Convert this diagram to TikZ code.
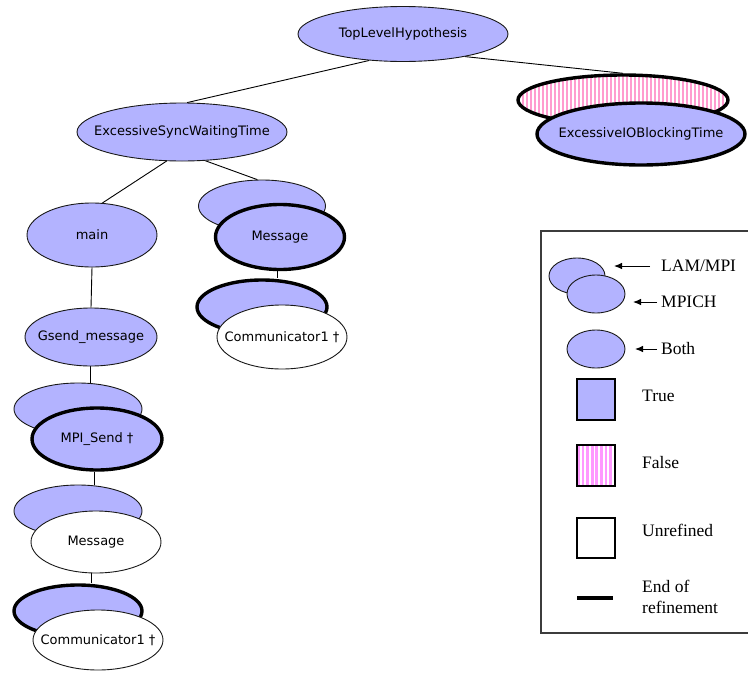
\documentclass[tikz,border=0pt]{standalone}
\usepackage{fontspec}
\setmainfont{Liberation Serif}
\newfontfamily\hypfont{DejaVu Sans}
\usetikzlibrary{shapes.geometric, arrows.meta, backgrounds}

\definecolor{hypblue}{RGB}{179,179,255}
\definecolor{falsepink}{RGB}{255,156,207}
\definecolor{legpink}{RGB}{255,153,255}
\definecolor{framegray}{RGB}{60,60,60}

\tikzset{
    hyp/.style={ellipse, draw=black!90, line width=0.9pt, fill=hypblue,
        inner xsep=-30pt, inner ysep=0pt,
        font=\hypfont\fontsize{13}{15}\selectfont},
    unref/.style={hyp, fill=white},
    endref/.style={line width=3.4pt, draw=black},
    back/.style={minimum width=128pt, minimum height=52pt},
    front/.style={minimum width=130pt, minimum height=62pt},
    stripes/.style 2 args={fill=white, path picture={
        \foreach \k in {0,#2,...,240}
            \fill[#1] ([xshift=\k pt]path picture bounding box.south west)
                rectangle ++(0.6*#2 pt, 300pt);}},
    edge/.style={draw=black, line width=0.9pt},
    legtext/.style={anchor=west, inner sep=0pt, align=left,
        font=\fontsize{17.5}{21}\selectfont},
    legsq/.style={draw=black, line width=1.1pt, minimum width=38pt,
        minimum height=41pt, inner sep=0pt},
    legell/.style={ellipse, draw=black!90, line width=0.9pt, fill=hypblue,
        inner sep=0pt, minimum width=58pt, minimum height=38pt},
    legarrow/.style={draw=black, line width=0.9pt,
        -{Latex[length=8pt, width=6.5pt]}},
}

\begin{document}
\begin{tikzpicture}[x=1pt, y=-1pt]
    \useasboundingbox (0,0) rectangle (748,673);

    % hypothesis tree
    \node[hyp, minimum width=210pt, minimum height=55pt] (tlh) at (403,34)
        {TopLevelHypothesis};
    \node[hyp, minimum width=210pt, minimum height=58pt] (esw) at (182,132)
        {ExcessiveSyncWaitingTime};
    \node[hyp, endref, stripes={falsepink}{4}, minimum width=210pt,
        minimum height=50pt] (ioback) at (623,100) {};
    \node[hyp, endref, minimum width=208pt, minimum height=62pt] (io)
        at (641,134) {ExcessiveIOBlockingTime};

    \node[hyp, minimum width=130pt, minimum height=64pt] (main) at (92,235)
        {main};
    \node[hyp, minimum width=127pt, minimum height=52pt] (msgback)
        at (262,206) {};
    \node[hyp, endref, minimum width=129pt, minimum height=65pt] (msg)
        at (280,237) {Message};
    \node[hyp, endref, minimum width=130pt, minimum height=54pt] (commback)
        at (262,307) {};
    \node[unref, minimum width=130pt, minimum height=64pt] (comm)
        at (282,337) {Communicator1 †};

    \node[hyp, minimum width=132pt, minimum height=58pt] (gsend) at (91,337)
        {Gsend\_message};
    \node[hyp, back] (sendback) at (78,409) {};
    \node[hyp, endref, front] (send) at (97,439) {MPI\_Send †};
    \node[hyp, back] (msg2back) at (78,511) {};
    \node[unref, front] (msg2) at (96,542) {Message};
    \node[hyp, endref, back] (comm2back) at (78,611) {};
    \node[unref, front, minimum height=60pt] (comm2) at (98,640)
        {Communicator1 †};

    \begin{scope}[on background layer]
        \draw[edge] (tlh.218) -- (esw.80);
        \draw[edge] (tlh.340) -- (ioback.north);
        \draw[edge] (esw.242) -- (main.72);
        \draw[edge] (esw.309) -- (msgback.100);
        \draw[edge] (msg.265) -- (msg.265 |- commback.north);
        \draw[edge] (main.south) -- (gsend.north);
        \draw[edge] (gsend.268) -- (gsend.268 |- sendback.north);
        \draw[edge] (send.265) -- (send.265 |- msg2back.north);
        \draw[edge] (msg2.262) -- (msg2.262 |- comm2back.north);
    \end{scope}

    % legend
    \draw[framegray, line width=1.4pt] (749,231) -| (541,633) -- (749,633);

    \node[legell, minimum width=56pt, minimum height=36pt] (lamell)
        at (577,276) {};
    \node[legell] (mpichell) at (596,294) {};
    \node[legell] (bothell) at (596,349) {};
    \node[legsq, fill=hypblue] (truesq) at (596,399.5) {};
    \node[legsq, stripes={legpink}{4.6}] (falsesq) at (596,465.5) {};
    \node[legsq, fill=white, minimum height=40pt] (unrefsq) at (596,538) {};
    \coordinate (endl) at (577,598);
    \coordinate (endr) at (613,598);
    \draw[line width=4pt] (endl) -- (endr);

    \node[legtext] (lamtxt) at (661,266) {LAM/MPI};
    \node[legtext] (mpichtxt) at (661,302) {MPICH};
    \node[legtext] (bothtxt) at (661,349) {Both};
    \node[legtext] (truetxt) at (642,396) {True};
    \node[legtext] (falsetxt) at (642,463) {False};
    \node[legtext] (unreftxt) at (642,530) {Unrefined};
    \node[legtext] (endtxt) at (642,597) {End of\\refinement};

    \coordinate (lamtip) at (614,266);
    \coordinate (mpichtip) at (633,302);
    \coordinate (bothtip) at (635,349);
    \draw[legarrow, shorten <=11pt] (lamtxt.west) -- (lamtip);
    \draw[legarrow, shorten <=4pt] (mpichtxt.west) -- (mpichtip);
    \draw[legarrow, shorten <=4pt] (bothtxt.west) -- (bothtip);
\end{tikzpicture}
\end{document}
